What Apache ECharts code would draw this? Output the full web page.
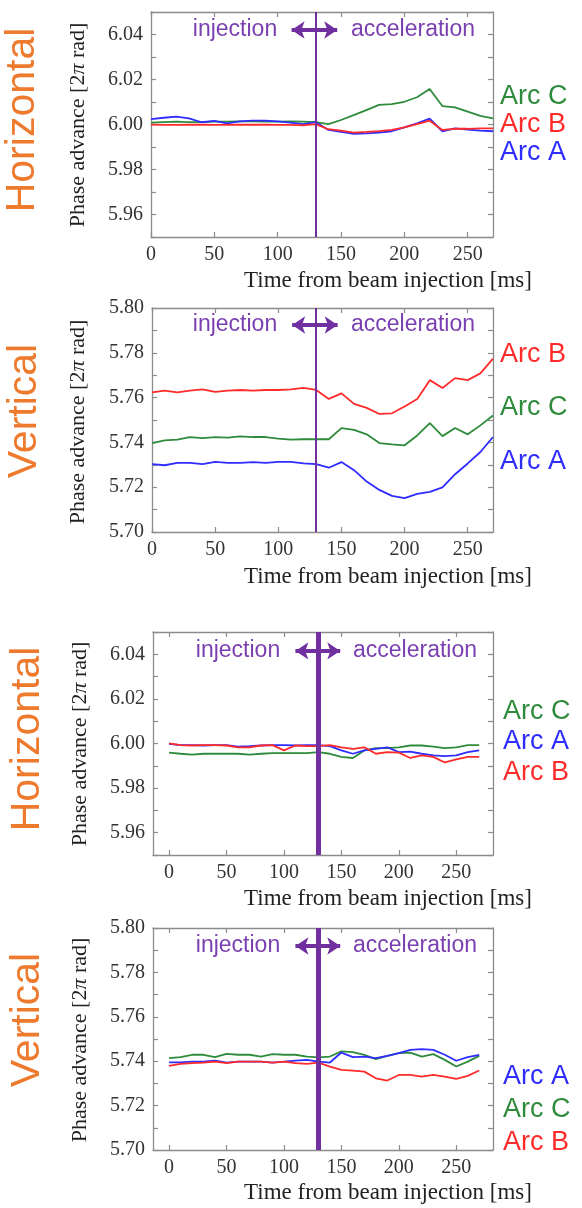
<!DOCTYPE html>
<html>
<head>
<meta charset="utf-8">
<script src="https://cdn.jsdelivr.net/npm/echarts@6.0.0/dist/echarts.min.js"></script>
<style>
  html, body { margin: 0; padding: 0; background: #fff; }
  #chart { width: 582px; height: 1208px; }
</style>
</head>
<body>
<div id="chart"></div>
<script>
// time from beam injection [ms]
const times = [0, 10, 20, 30, 40, 50, 60, 70, 80, 90, 100, 110, 120, 130, 140, 150, 160, 170, 180, 190, 200, 210, 220, 230, 240, 250, 260, 270]

// upper pair of panels
const h1ArcA = [6.0024, 6.0030, 6.0035, 6.0027, 6.0010, 6.0016, 6.0005, 6.0014, 6.0017, 6.0017, 6.0014, 6.0008, 6.0002, 6.0011, 5.9976, 5.9967, 5.9958, 5.9961, 5.9964, 5.9970, 5.9987, 6.0005, 6.0026, 5.9970, 5.9983, 5.9977, 5.9973, 5.9970]
const h1ArcB = [5.9999, 5.9998, 5.9998, 5.9999, 5.9999, 5.9998, 5.9998, 5.9999, 5.9999, 5.9999, 5.9998, 5.9998, 5.9996, 6.0002, 5.9979, 5.9973, 5.9964, 5.9967, 5.9971, 5.9976, 5.9987, 6.0002, 6.0017, 5.9976, 5.9981, 5.9981, 5.9983, 5.9983]
const h1ArcC = [6.0008, 6.0011, 6.0013, 6.0011, 6.0011, 6.0013, 6.0013, 6.0014, 6.0014, 6.0013, 6.0013, 6.0014, 6.0013, 6.0011, 6.0002, 6.0020, 6.0042, 6.0064, 6.0087, 6.0091, 6.0101, 6.0121, 6.0158, 6.0082, 6.0076, 6.0057, 6.0038, 6.0027]

const v1ArcA = [5.7303, 5.7298, 5.7309, 5.7309, 5.7303, 5.7313, 5.7309, 5.7309, 5.7312, 5.7309, 5.7313, 5.7313, 5.7306, 5.7303, 5.7287, 5.7312, 5.7276, 5.7225, 5.7188, 5.7161, 5.7151, 5.7170, 5.7179, 5.7199, 5.7258, 5.7306, 5.7357, 5.7424]
const v1ArcB = [5.7623, 5.7631, 5.7623, 5.7631, 5.7637, 5.7626, 5.7631, 5.7634, 5.7631, 5.7634, 5.7634, 5.7637, 5.7643, 5.7634, 5.7594, 5.7619, 5.7572, 5.7554, 5.7527, 5.7530, 5.7560, 5.7594, 5.7678, 5.7643, 5.7687, 5.7678, 5.7708, 5.7774]
const v1ArcC = [5.7397, 5.7409, 5.7412, 5.7424, 5.7419, 5.7424, 5.7421, 5.7427, 5.7424, 5.7424, 5.7417, 5.7412, 5.7414, 5.7414, 5.7414, 5.7464, 5.7456, 5.7436, 5.7397, 5.7391, 5.7387, 5.7431, 5.7486, 5.7428, 5.7464, 5.7436, 5.7476, 5.7520]

// lower pair of panels
const h2ArcA = [5.9998, 5.9993, 5.9993, 5.9991, 5.9993, 5.9993, 5.9986, 5.9988, 5.9991, 5.9993, 5.9993, 5.9991, 5.9993, 5.9993, 5.9988, 5.9969, 5.9954, 5.9969, 5.9976, 5.9983, 5.9961, 5.9964, 5.9954, 5.9947, 5.9943, 5.9947, 5.9961, 5.9969]
const h2ArcB = [6.0001, 5.9993, 5.9991, 5.9993, 5.9993, 5.9991, 5.9983, 5.9983, 5.9991, 5.9993, 5.9969, 5.9991, 5.9988, 5.9988, 5.9993, 5.9983, 5.9976, 5.9983, 5.9954, 5.9961, 5.9959, 5.9935, 5.9947, 5.9940, 5.9915, 5.9929, 5.9940, 5.9940]
const h2ArcC = [5.9959, 5.9954, 5.9950, 5.9954, 5.9954, 5.9954, 5.9954, 5.9950, 5.9954, 5.9957, 5.9957, 5.9957, 5.9957, 5.9961, 5.9954, 5.9940, 5.9935, 5.9969, 5.9979, 5.9979, 5.9983, 5.9991, 5.9991, 5.9986, 5.9979, 5.9983, 5.9993, 5.9993]

const v2ArcA = [5.7395, 5.7395, 5.7398, 5.7398, 5.7403, 5.7394, 5.7398, 5.7398, 5.7398, 5.7394, 5.7398, 5.7403, 5.7406, 5.7398, 5.7394, 5.7439, 5.7418, 5.7421, 5.7414, 5.7424, 5.7436, 5.7451, 5.7454, 5.7451, 5.7429, 5.7402, 5.7418, 5.7429]
const v2ArcB = [5.7379, 5.7388, 5.7391, 5.7394, 5.7398, 5.7391, 5.7398, 5.7398, 5.7398, 5.7394, 5.7398, 5.7391, 5.7388, 5.7394, 5.7376, 5.7361, 5.7358, 5.7353, 5.7323, 5.7313, 5.7338, 5.7338, 5.7331, 5.7338, 5.7331, 5.7320, 5.7334, 5.7358]
const v2ArcC = [5.7414, 5.7418, 5.7429, 5.7429, 5.7418, 5.7433, 5.7429, 5.7429, 5.7421, 5.7432, 5.7429, 5.7429, 5.7421, 5.7417, 5.7421, 5.7444, 5.7441, 5.7429, 5.7409, 5.7424, 5.7436, 5.7439, 5.7421, 5.7432, 5.7406, 5.7376, 5.7398, 5.7424]

// ticks and labels
const xLabels = [0, 50, 100, 150, 200, 250]
const hYLabels = [5.96, 5.98, 6.00, 6.02, 6.04]
const hYTicks = [5.95, 5.96, 5.97, 5.98, 5.99, 6.00, 6.01, 6.02, 6.03, 6.04, 6.05]
const vYLabels = [5.70, 5.72, 5.74, 5.76, 5.78, 5.80]
const vYTicks = [5.70, 5.71, 5.72, 5.73, 5.74, 5.75, 5.76, 5.77, 5.78, 5.79, 5.80]
const switchTime = 130

const COLOR_A = '#2f2cff'
const COLOR_B = '#ff2b2b'
const COLOR_C = '#2e8b3c'
const PURPLE = '#7030a0'
const ORANGE = '#ee7a2e'
const FRAME = '#8c8c8c'
const SERIF = '"Liberation Serif", "DejaVu Serif", serif'
const SANS = '"Liberation Sans", Arial, sans-serif'

const panels = [
  { grid: { left: 151, top: 12, width: 342, height: 225 }, xMin: 0, xMax: 270, yMin: 5.95, yMax: 6.05,
    yLabels: hYLabels, yTicks: hYTicks, A: h1ArcA, B: h1ArcB, C: h1ArcC, markWidth: 2,
    arrow: [111, 147, 6.042], textX: [235, 413], textY: 30,
    plane: 'Horizontal', planeXY: [23, 120], titleY: 125, titleX: 78, xTitleY: 281,
    legend: [['Arc C', COLOR_C, 97], ['Arc B', COLOR_B, 125], ['Arc A', COLOR_A, 153]], legendX: 500 },
  { grid: { left: 152, top: 308, width: 341, height: 224 }, xMin: 0, xMax: 270, yMin: 5.70, yMax: 5.80,
    yLabels: vYLabels, yTicks: vYTicks, A: v1ArcA, B: v1ArcB, C: v1ArcC, markWidth: 2,
    arrow: [111, 147, 5.7924], textX: [235, 413], textY: 325,
    plane: 'Vertical', planeXY: [25, 411], titleY: 422, titleX: 78, xTitleY: 577,
    legend: [['Arc B', COLOR_B, 355], ['Arc C', COLOR_C, 408], ['Arc A', COLOR_A, 462]], legendX: 500 },
  { grid: { left: 153, top: 632, width: 340, height: 223 }, xMin: -14, xMax: 282, yMin: 5.95, yMax: 6.05,
    yLabels: hYLabels, yTicks: hYTicks, A: h2ArcA, B: h2ArcB, C: h2ArcC, markWidth: 5,
    arrow: [110, 149, 6.0415], textX: [238, 415], textY: 651,
    plane: 'Horizontal', planeXY: [28, 739], titleY: 744, titleX: 80, xTitleY: 899,
    legend: [['Arc C', COLOR_C, 712], ['Arc A', COLOR_A, 742], ['Arc B', COLOR_B, 773]], legendX: 503 },
  { grid: { left: 153, top: 928, width: 340, height: 222 }, xMin: -14, xMax: 282, yMin: 5.70, yMax: 5.80,
    yLabels: vYLabels, yTicks: vYTicks, A: v2ArcA, B: v2ArcB, C: v2ArcC, markWidth: 5,
    arrow: [110, 149, 5.7919], textX: [238, 415], textY: 946,
    plane: 'Vertical', planeXY: [28, 1020], titleY: 1040, titleX: 80, xTitleY: 1193,
    legend: [['Arc A', COLOR_A, 1077], ['Arc C', COLOR_C, 1110], ['Arc B', COLOR_B, 1143]], legendX: 503 }
]

function pairs(values) {
  return times.map((t, i) => [t, values[i]])
}

const grids = []
const xAxes = []
const yAxes = []
const series = []
const graphic = []

panels.forEach((p, i) => {
  grids.push(p.grid)
  const frame = { show: true, onZero: false, lineStyle: { color: FRAME, width: 1.3 } }
  const tick = { show: true, inside: true, length: 5, lineStyle: { color: FRAME, width: 1.2 } }
  xAxes.push({
    type: 'value', gridIndex: i, position: 'bottom', min: p.xMin, max: p.xMax,
    axisLine: frame, splitLine: { show: false },
    axisTick: Object.assign({}, tick, { customValues: xLabels }),
    axisLabel: { customValues: xLabels, margin: 8, color: '#333', fontFamily: SERIF, fontSize: 20 }
  })
  xAxes.push({
    type: 'value', gridIndex: i, position: 'top', min: p.xMin, max: p.xMax,
    axisLine: frame, splitLine: { show: false },
    axisTick: Object.assign({}, tick, { customValues: xLabels }),
    axisLabel: { show: false }
  })
  yAxes.push({
    type: 'value', gridIndex: i, position: 'left', min: p.yMin, max: p.yMax,
    axisLine: frame, splitLine: { show: false },
    axisTick: Object.assign({}, tick, { customValues: p.yTicks }),
    axisLabel: { customValues: p.yLabels, margin: 8, color: '#333', fontFamily: SERIF, fontSize: 20,
      formatter: v => v.toFixed(2) }
  })
  yAxes.push({
    type: 'value', gridIndex: i, position: 'right', min: p.yMin, max: p.yMax,
    axisLine: frame, splitLine: { show: false },
    axisTick: Object.assign({}, tick, { customValues: p.yTicks }),
    axisLabel: { show: false }
  })

  const line = (name, data, color) => ({
    name, type: 'line', xAxisIndex: 2 * i, yAxisIndex: 2 * i, data: pairs(data),
    showSymbol: false, lineStyle: { color, width: 1.8 }, itemStyle: { color }, z: 3
  })
  series.push(line('Arc C', p.C, COLOR_C))
  series.push(line('Arc A', p.A, COLOR_A))
  series.push(line('Arc B', p.B, COLOR_B))

  // injection -> acceleration switch
  series.push({
    type: 'line', xAxisIndex: 2 * i, yAxisIndex: 2 * i, data: [], silent: true, z: 4,
    markLine: {
      silent: true, animation: false, symbol: 'none', label: { show: false },
      lineStyle: { color: PURPLE, width: p.markWidth, type: 'solid' },
      data: [{ xAxis: switchTime }]
    }
  })
  // double arrow
  series.push({
    type: 'line', xAxisIndex: 2 * i, yAxisIndex: 2 * i, data: [], silent: true, z: 5,
    markLine: {
      silent: true, animation: false, symbol: ['arrow', 'arrow'], symbolSize: [13, 13],
      label: { show: false },
      lineStyle: { color: PURPLE, width: 4, type: 'solid' },
      itemStyle: { color: PURPLE },
      data: [[{ coord: [p.arrow[0], p.arrow[2]] }, { coord: [p.arrow[1], p.arrow[2]] }]]
    }
  })

  graphic.push({ type: 'text', x: p.textX[0], y: p.textY,
    style: { text: 'injection', fill: '#7a3fb0', font: '23px ' + SANS, align: 'center', verticalAlign: 'middle' } })
  graphic.push({ type: 'text', x: p.textX[1], y: p.textY,
    style: { text: 'acceleration', fill: '#7a3fb0', font: '23px ' + SANS, align: 'center', verticalAlign: 'middle' } })

  graphic.push({ type: 'text', x: p.planeXY[0], y: p.planeXY[1], rotation: Math.PI / 2,
    style: { text: p.plane, fill: ORANGE, font: '41px ' + SANS, align: 'center', verticalAlign: 'middle' } })

  graphic.push({ type: 'text', x: p.titleX, y: p.titleY, rotation: Math.PI / 2,
    style: {
      text: '{n|Phase advance [2}{i|π}{n| rad]}', align: 'center', verticalAlign: 'middle',
      rich: {
        n: { fontFamily: SERIF, fontSize: 22, fill: '#222' },
        i: { fontFamily: SERIF, fontSize: 22, fontStyle: 'italic', fill: '#222' }
      }
    } })

  graphic.push({ type: 'text', x: 388, y: p.xTitleY,
    style: { text: 'Time from beam injection [ms]', fill: '#222', font: '23px ' + SERIF, align: 'center', verticalAlign: 'middle' } })

  p.legend.forEach(([label, color, y]) => {
    graphic.push({ type: 'text', x: p.legendX, y,
      style: { text: label, fill: color, font: '27px ' + SANS, align: 'left', verticalAlign: 'middle' } })
  })
})

const myChart = echarts.init(document.getElementById('chart'), null, { renderer: 'canvas' })
myChart.setOption({
  animation: false,
  backgroundColor: '#fff',
  grid: grids,
  xAxis: xAxes,
  yAxis: yAxes,
  series,
  graphic
})
</script>
</body>
</html>
